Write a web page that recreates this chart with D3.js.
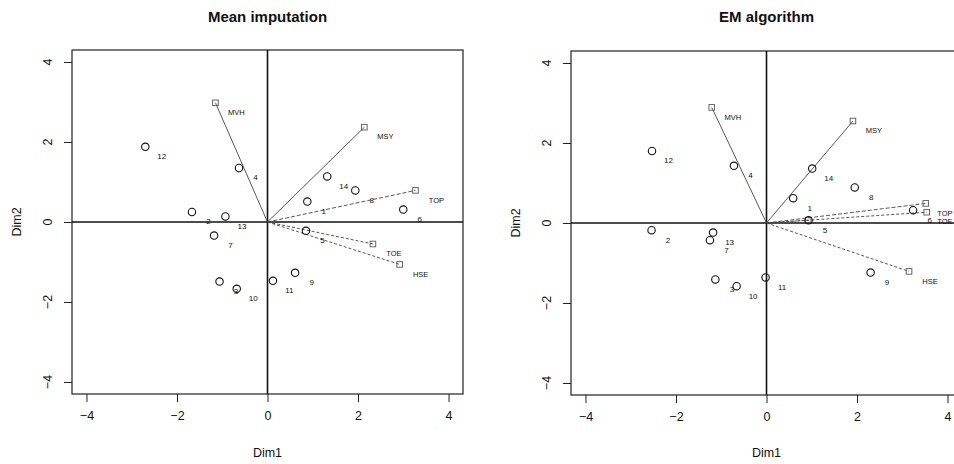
<!DOCTYPE html>
<html>
<head>
<meta charset="utf-8">
<script src="https://cdn.jsdelivr.net/npm/d3@7"></script>
<style>
  body { margin: 0; background: #fff; }
  text { font-family: "Liberation Sans", Arial, Helvetica, sans-serif; fill: #111; }
</style>
</head>
<body>
<div id="chart-area"></div>
<script>
// datos: individuos (1..14) y variables, dos metodos
var pointIds = ["1","2","3","4","5","6","7","8","9","10","11","12","13","14"];

var meanDim1 = [0.88, -1.67, -1.06, -0.63, 0.85, 3.00, -1.18, 1.94, 0.61, -0.68, 0.12, -2.70, -0.93, 1.32];
var meanDim2 = [0.51, 0.25, -1.49, 1.35, -0.22, 0.31, -0.34, 0.79, -1.27, -1.67, -1.47, 1.88, 0.14, 1.14];

var emDim1 = [0.59, -2.54, -1.13, -0.72, 0.93, 3.24, -1.25, 1.95, 2.30, -0.66, -0.02, -2.53, -1.18, 1.01];
var emDim2 = [0.62, -0.18, -1.41, 1.43, 0.07, 0.32, -0.43, 0.89, -1.24, -1.58, -1.36, 1.80, -0.24, 1.36];

var meanVarNames = ["MVH", "MSY", "TOP", "TOE", "HSE"];
var meanVarDim1 = [-1.15, 2.14, 3.27, 2.33, 2.92];
var meanVarDim2 = [2.98, 2.37, 0.79, -0.55, -1.06];

var emVarNames = ["MVH", "MSY", "TOP", "TOE", "HSE", ""];
var emVarDim1 = [-1.21, 1.91, 3.52, 3.54, 3.15, 0.92];
var emVarDim2 = [2.89, 2.55, 0.49, 0.27, -1.21, 0.07];

var tickValues = [-4, -2, 0, 2, 4];

// estilos de linea por variable
var dashes = { "MVH": null, "MSY": null, "TOP": "4,2", "TOE": "3,2", "HSE": "3,2", "": "2,2" };

var width = 954, height = 464;

var svg = d3.select("#chart-area")
    .append("svg")
        .attr("width", width)
        .attr("height", height);

function makePanel(offX, offY, title, d1, d2, vNames, v1, v2){
    var x = d3.scaleLinear().domain([-4.32, 4.32]).range([72 + offX, 463 + offX]);
    var y = d3.scaleLinear().domain([-4.3, 4.3]).range([394 + offY, 50 + offY]);

    var g = svg.append("g");

    // titulo
    g.append("text")
        .attr("x", x(0))
        .attr("y", 22)
        .attr("text-anchor", "middle")
        .style("font-size", "15px")
        .style("font-weight", "bold")
        .text(title);

    // caja
    g.append("rect")
        .attr("x", x.range()[0])
        .attr("y", y.range()[1])
        .attr("width", x.range()[1] - x.range()[0])
        .attr("height", y.range()[0] - y.range()[1])
        .attr("fill", "none")
        .attr("stroke", "#222")
        .attr("stroke-width", 1.2);

    // ejes
    var xAxis = d3.axisBottom(x).tickValues(tickValues).tickSize(8).tickPadding(9)
        .tickFormat(d => d < 0 ? "\u2212" + Math.abs(d) : d);
    var gx = g.append("g")
        .attr("transform", "translate(0," + y.range()[0] + ")")
        .call(xAxis);
    gx.select(".domain").remove();
    gx.selectAll("line").attr("stroke", "#222");
    gx.selectAll("text").style("font-size", "12.5px").attr("fill", "#111");

    var yAxis = d3.axisLeft(y).tickValues(tickValues).tickSize(8).tickFormat("");
    var gy = g.append("g")
        .attr("transform", "translate(" + x.range()[0] + ",0)")
        .call(yAxis);
    gy.select(".domain").remove();
    gy.selectAll("line").attr("stroke", "#222");

    tickValues.forEach(function(v){
        g.append("text")
            .attr("transform", "translate(" + (x.range()[0] - 24) + "," + y(v) + ") rotate(-90)")
            .attr("text-anchor", "middle")
            .attr("dy", "0.35em")
            .style("font-size", "12.5px")
            .text(v < 0 ? "\u2212" + Math.abs(v) : v);
    });

    g.append("text")
        .attr("x", x(0))
        .attr("y", 457)
        .attr("text-anchor", "middle")
        .style("font-size", "12.5px")
        .text("Dim1");

    g.append("text")
        .attr("transform", "translate(" + (x.range()[0] - 55) + "," + y(0) + ") rotate(-90)")
        .attr("text-anchor", "middle")
        .attr("dy", "0.35em")
        .style("font-size", "12.5px")
        .text("Dim2");

    // lineas por el origen
    g.append("line")
        .attr("x1", x.range()[0]).attr("x2", x.range()[1])
        .attr("y1", y(0)).attr("y2", y(0))
        .attr("stroke", "#111").attr("stroke-width", 1.6);
    g.append("line")
        .attr("x1", x(0)).attr("x2", x(0))
        .attr("y1", y.range()[0]).attr("y2", y.range()[1])
        .attr("stroke", "#111").attr("stroke-width", 1.6);

    // variables
    var vars = vNames.map(function(n, i){ return { name: n, d1: v1[i], d2: v2[i] }; });

    g.selectAll(".vline")
        .data(vars)
        .join("line")
        .attr("class", "vline")
        .attr("x1", x(0)).attr("y1", y(0))
        .attr("x2", d => x(d.d1)).attr("y2", d => y(d.d2))
        .attr("stroke", "#444")
        .attr("stroke-width", 0.9)
        .attr("stroke-dasharray", d => dashes[d.name]);

    g.selectAll(".vsq")
        .data(vars)
        .join("rect")
        .attr("class", "vsq")
        .attr("x", d => x(d.d1) - 2.8).attr("y", d => y(d.d2) - 2.8)
        .attr("width", 5.6).attr("height", 5.6)
        .attr("fill", "none")
        .attr("stroke", "#555")
        .attr("stroke-width", 0.9);

    // etiquetas: se recortan al borde de la imagen
    g.selectAll(".vlab")
        .data(vars)
        .join("text")
        .attr("class", "vlab")
        .attr("x", d => Math.min(x(d.d1) + 21, width - 9))
        .attr("y", d => y(d.d2) + 9.5)
        .attr("text-anchor", "middle")
        .attr("dy", "0.35em")
        .style("font-size", "7.5px")
        .text(d => d.name);

    // individuos
    var pts = pointIds.map(function(id, i){ return { id: id, d1: d1[i], d2: d2[i] }; });

    g.selectAll(".pt")
        .data(pts)
        .join("circle")
        .attr("class", "pt")
        .attr("cx", d => x(d.d1)).attr("cy", d => y(d.d2))
        .attr("r", 3.7)
        .attr("fill", "none")
        .attr("stroke", "#111")
        .attr("stroke-width", 1.1);

    g.selectAll(".plab")
        .data(pts)
        .join("text")
        .attr("class", "plab")
        .attr("x", d => x(d.d1) + 16.5).attr("y", d => y(d.d2) + 9.5)
        .attr("text-anchor", "middle")
        .attr("dy", "0.35em")
        .style("font-size", "8px")
        .text(d => d.id);
}

makePanel(0, 0, "Mean imputation", meanDim1, meanDim2, meanVarNames, meanVarDim1, meanVarDim2);
makePanel(499, 1, "EM algorithm", emDim1, emDim2, emVarNames, emVarDim1, emVarDim2);
</script>
</body>
</html>
